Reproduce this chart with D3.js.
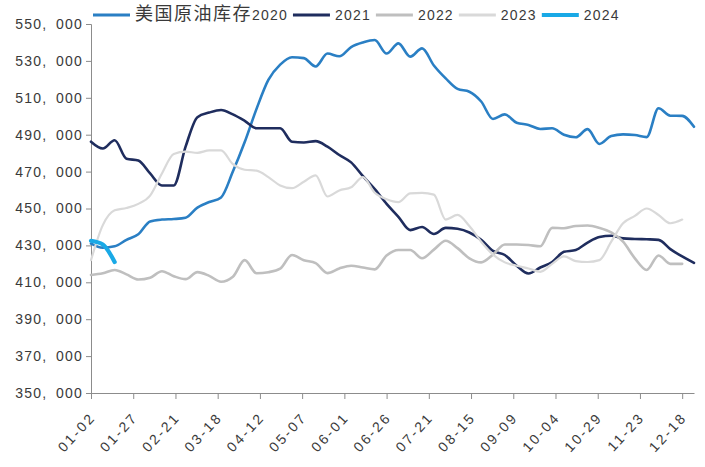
<!DOCTYPE html>
<html><head><meta charset="utf-8">
<script src="https://cdn.jsdelivr.net/npm/d3@7"></script>
<style>
html,body{margin:0;padding:0;background:#fff;}
svg{display:block;}
</style></head>
<body>
<svg id="chart" width="705" height="467"></svg>
<script>
// ---- data ----
const weeks = ["01-02","01-09","01-16","01-23","01-30","02-06","02-13","02-20","02-27","03-06","03-13","03-20","03-27","04-03","04-10","04-17","04-24","05-01","05-08","05-15","05-22","05-29","06-05","06-12","06-19","06-26","07-03","07-10","07-17","07-24","07-31","08-07","08-14","08-21","08-28","09-04","09-11","09-18","09-25","10-02","10-09","10-16","10-23","10-30","11-06","11-13","11-20","11-27","12-04","12-11","12-18","12-25"];
const tickLabels = ["01-02","01-27","02-21","03-18","04-12","05-07","06-01","06-26","07-21","08-15","09-09","10-04","10-29","11-23","12-18"];
const yTicks = [350000,370000,390000,410000,430000,450000,470000,490000,510000,530000,550000];
const seriesNames = ["美国原油库存2020","2021","2022","2023","2024"];
const s2020 = [431000,428800,429500,433000,436000,443000,444000,444300,445000,450500,453500,456000,470000,486000,504000,519700,528000,532000,531500,527000,534000,532500,537500,540000,541300,534000,539500,532300,536800,527500,520500,514800,513300,508000,498500,501000,496500,495300,493100,493500,490000,488600,493000,485000,489300,490200,489800,488700,504300,500300,500200,494300];
const s2021 = [486200,482500,487000,477000,476000,469000,462500,462500,483500,499500,502000,503400,501000,497500,493500,493500,493500,486200,485800,486500,483500,479000,475000,467500,460500,452500,445500,438300,440000,436200,439500,439000,437000,433000,427000,424800,419000,414800,418000,421000,426500,427500,431500,434500,435200,433800,433500,433300,433000,428000,424000,420500];
const s2022 = [414000,414900,416700,414300,411500,412500,416000,413300,411700,415500,413500,410300,413000,422000,414900,415500,417400,424800,422000,420400,415000,417500,419000,418000,417000,424500,427500,427500,423000,427700,432500,428500,423000,420800,425000,430500,430500,430200,429500,439500,439300,440500,440800,439500,437000,432000,423000,416700,424500,420000,420000];
const s2023 = [422000,441000,449000,450300,452500,457000,469000,479500,480800,480200,481500,481500,474000,471000,470500,467000,462500,461000,464500,468000,456500,459800,461500,467000,458500,455000,453500,458200,458500,457500,444000,446500,440500,432000,425000,420800,419000,417500,415700,420000,424000,421500,421000,422000,432000,442000,446000,450000,446500,442000,444000];
const s2024 = [432500,430500,421000];

// ---- styles ----
const colors = ["#2a7fc4","#1f2d5e","#bfbfbf","#d9d9d9","#19a9e6"];
const widths = [2.6,2.6,2.6,2.2,4.2];

const svg = d3.select("#chart");
const W = 705, H = 467;
const m = {left:91, right:11, top:24, bottom:74};
const parse = d3.timeParse("%Y-%m-%d");
const toDate = s => parse("2021-" + s);

const x = d3.scaleTime()
  .domain([toDate(weeks[0]), toDate(weeks[weeks.length-1])])
  .range([m.left, W - m.right]);
const y = d3.scaleLinear().domain([350000,550000]).range([H - m.bottom, m.top]);

const axisColor = "#8c8c8c";
const textColor = "#3a3a3a";
const fontFam = "'Liberation Sans', Arial, 'Noto Sans CJK SC', sans-serif";

// y axis
const yAxis = svg.append("g").attr("transform", `translate(${m.left},0)`)
  .call(d3.axisLeft(y).tickValues(yTicks).tickSize(5).tickPadding(3).tickFormat(d3.format(",")));
yAxis.select(".domain").attr("stroke", axisColor);
yAxis.selectAll(".tick line").attr("stroke", axisColor);
yAxis.selectAll(".tick text").attr("fill", textColor)
  .style("font-family", fontFam).style("font-size","14px").style("letter-spacing","1.2px")
  .each(function(){
    const s = d3.select(this).text();
    const parts = s.split(",");
    const t = d3.select(this).text("");
    parts.forEach((p, i) => {
      t.append("tspan").text(p);
      if (i < parts.length - 1) t.append("tspan").style("letter-spacing","10px").text(",");
    });
  });

// x axis
const xAxis = svg.append("g").attr("transform", `translate(0,${H - m.bottom})`)
  .call(d3.axisBottom(x).tickValues(tickLabels.map(toDate)).tickSize(6).tickSizeOuter(0).tickFormat(d3.timeFormat("%m-%d")));
xAxis.select(".domain").attr("stroke", axisColor);
xAxis.selectAll(".tick line").attr("stroke", axisColor);
xAxis.selectAll(".tick text")
  .attr("fill", textColor)
  .style("font-family", fontFam).style("font-size","14px").style("letter-spacing","2.4px")
  .attr("text-anchor","end")
  .attr("x", 0).attr("y", 0).attr("dy", 0)
  .attr("transform", "translate(5,25) rotate(-47)");

// lines
const allSeries = [s2020, s2021, s2022, s2023, s2024];
const line = d3.line()
  .x((d,i) => x(toDate(weeks[i])))
  .y(d => y(d))
  .curve(d3.curveMonotoneX);

const g = svg.append("g");
allSeries.forEach((vals, k) => {
  g.append("path")
    .datum(vals)
    .attr("fill","none")
    .attr("stroke", colors[k])
    .attr("stroke-width", widths[k])
    .attr("stroke-linejoin","round")
    .attr("stroke-linecap","round")
    .attr("d", line);
});

// legend
const leg = svg.append("g").attr("transform","translate(93,15)");
let lx = 0;
seriesNames.forEach((name, k) => {
  const it = leg.append("g").attr("transform", `translate(${lx},0)`);
  it.append("line").attr("x1",0).attr("x2",37).attr("y1",0).attr("y2",0)
    .attr("stroke", colors[k]).attr("stroke-width", k===4?4.2:3);
  const t = it.append("text").attr("x", 42).attr("y", 0).attr("dy","0.36em")
    .attr("fill", textColor)
    .style("font-family", fontFam).style("font-size","14px").style("letter-spacing","1.2px");
  const m2 = name.match(/^([^\x00-\x7f]*)(.*)$/);
  if (m2[1]) t.append("tspan").style("font-family","'Noto Sans CJK SC', sans-serif").style("font-size","18px").style("letter-spacing","1.5px").text(m2[1]);
  t.append("tspan").text(m2[2]);
  const tw = t.node().getComputedTextLength();
  lx += 42 + tw + 5;
});
</script>
</body></html>
